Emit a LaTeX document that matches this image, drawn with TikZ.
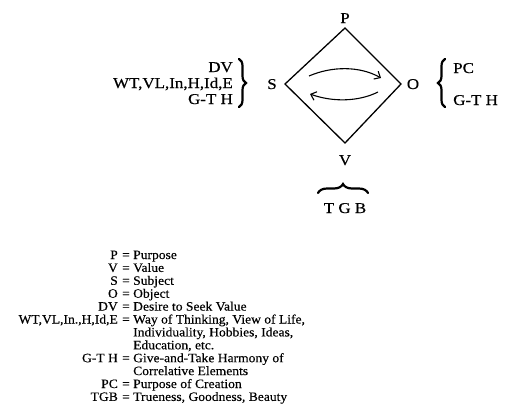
\documentclass[tikz,border=0pt]{standalone}
\usepackage{fontspec}
\setmainfont{Liberation Serif}
\newfontfamily\bigfont[FakeStretch=1.13,FakeBold=0.4]{Liberation Serif}
\newfontfamily\legfont[FakeStretch=1.06,FakeBold=0.3]{Liberation Serif}
\usetikzlibrary{arrows.meta,decorations.pathreplacing}
\begin{document}
\begin{tikzpicture}[x=1pt,y=-1pt,
  big/.style={font=\bigfont\fontsize{15}{15}\selectfont, inner sep=0pt},
  leg/.style={font=\legfont\fontsize{12.8}{12.9}\selectfont, inner sep=0pt},
  edge/.style={line width=1.3pt, line join=miter},
  flow/.style={line width=1.1pt,-{Straight Barb[length=5pt,width=9pt]}},
  curly/.style={decorate, decoration={brace, amplitude=#1}, line width=2.2pt, line cap=round}]
\useasboundingbox (0,0) rectangle (506,410);
% diamond
\coordinate (P) at (345,28);
\coordinate (O) at (401,84);
\coordinate (V) at (345,143);
\coordinate (S) at (285,84);
\draw[edge] (P) -- (O) -- (V) -- (S) -- cycle;
\node[big, anchor=base] (lP) at (345,23) {P};
\node[big, anchor=base] (lS) at (272,89) {S};
\node[big, anchor=base] (lO) at (413,89) {O};
\node[big, anchor=base] (lV) at (345,165) {V};
% arrows
\coordinate (a1) at (309,76);
\coordinate (a2) at (381,78);
\draw[flow] (a1) .. controls (332,66) and (360,66) .. (a2);
\coordinate (b1) at (378,92);
\coordinate (b2) at (310,94);
\draw[flow] (b1) .. controls (358,102) and (332,102) .. (b2);
% left group
\node[big, anchor=base east] (dv) at (233,72) {DV};
\node[big, anchor=base east] (wt) at (233,88) {WT,VL,In,H,Id,E};
\node[big, anchor=base east] (gth) at (233,104) {G-T H};
\coordinate (lb1) at (239,59);
\coordinate (lb2) at (239,107);
\draw[curly=7pt] (lb1) -- (lb2);
% right group
\coordinate (rb1) at (445,107);
\coordinate (rb2) at (445,59);
\draw[curly=7pt] (rb1) -- (rb2);
\node[big, anchor=base west] (pc) at (453,73) {PC};
\node[big, anchor=base west] (gthr) at (453,105) {G-T H};
% bottom brace
\coordinate (br1) at (318,193);
\coordinate (br2) at (368,193);
\draw[curly=9pt] (br1) -- (br2);
\node[big, anchor=base] (tgb) at (345,213) {T G B};
% legend
\node[leg, anchor=base east] (k1) at (118,259) {P};
\node[leg, anchor=base east] (k2) at (118,271.9) {V};
\node[leg, anchor=base east] (k3) at (118,284.8) {S};
\node[leg, anchor=base east] (k4) at (118,297.7) {O};
\node[leg, anchor=base east] (k5) at (118,310.6) {DV};
\node[leg, anchor=base east] (k6) at (118,323.5) {WT,VL,In.,H,Id,E};
\node[leg, anchor=base east] (k9) at (118,362.2) {G-T H};
\node[leg, anchor=base east] (k11) at (118,388) {PC};
\node[leg, anchor=base east] (k12) at (118,400.9) {TGB};
\foreach \y/\n in {259/1,271.9/2,284.8/3,297.7/4,310.6/5,323.5/6,362.2/9,388/11,400.9/12}
  \node[leg, anchor=base] (e\n) at (126,\y) {=};
\node[leg, anchor=base west] (d1) at (133,259) {Purpose};
\node[leg, anchor=base west] (d2) at (133,271.9) {Value};
\node[leg, anchor=base west] (d3) at (133,284.8) {Subject};
\node[leg, anchor=base west] (d4) at (133,297.7) {Object};
\node[leg, anchor=base west] (d5) at (133,310.6) {Desire to Seek Value};
\node[leg, anchor=base west] (d6) at (133,323.5) {Way of Thinking, View of Life,};
\node[leg, anchor=base west] (d7) at (133,336.4) {Individuality, Hobbies, Ideas,};
\node[leg, anchor=base west] (d8) at (133,349.3) {Education, etc.};
\node[leg, anchor=base west] (d9) at (133,362.2) {Give-and-Take Harmony of};
\node[leg, anchor=base west] (d10) at (133,375.1) {Correlative Elements};
\node[leg, anchor=base west] (d11) at (133,388) {Purpose of Creation};
\node[leg, anchor=base west] (d12) at (133,400.9) {Trueness, Goodness, Beauty};
\end{tikzpicture}
\end{document}
